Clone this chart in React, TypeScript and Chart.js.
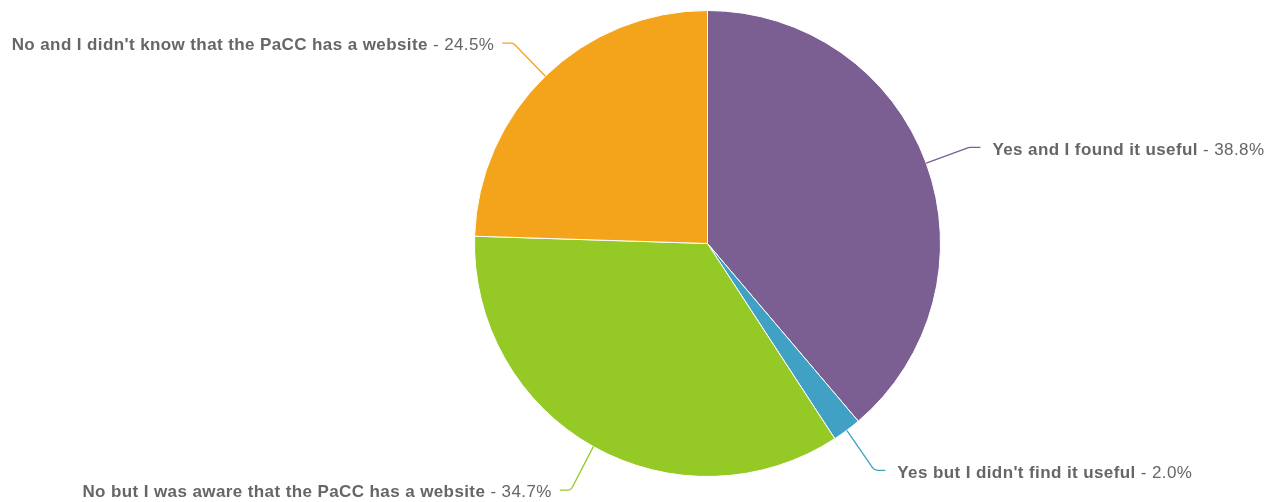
import React, { useEffect, useRef } from "react";
import { Chart, registerables } from "chart.js";

Chart.register(...registerables);

const categories = [
  "Yes and I found it useful",
  "Yes but I didn't find it useful",
  "No but I was aware that the PaCC has a website",
  "No and I didn't know that the PaCC has a website",
];
const values = [38.8, 2.0, 34.7, 24.5];
const colors = ["#7b5e92", "#41a1c4", "#95c926", "#f4a41a"];

const FONT_SIZE = 17;
const FONT_FAMILY = '"Liberation Sans", Arial, Helvetica, sans-serif';
const TEXT_COLOR = "#666666";

const labelPlugin = {
  id: "pieLabels",
  afterDatasetsDraw(chart: any) {
    const ctx = chart.ctx as CanvasRenderingContext2D;
    const meta = chart.getDatasetMeta(0);
    const data = chart.data.datasets[0].data as number[];
    const labels = chart.data.labels as string[];
    meta.data.forEach((arc: any, i: number) => {
      const { x, y, outerRadius, startAngle, endAngle } = arc.getProps(
        ["x", "y", "outerRadius", "startAngle", "endAngle"],
        true
      );
      const mid = (startAngle + endAngle) / 2;
      const cos = Math.cos(mid);
      const sin = Math.sin(mid);
      const sx = x + outerRadius * cos;
      const sy = y + outerRadius * sin;
      const lrx = outerRadius + 46;
      const lry = outerRadius + 46 + (sin > 0 ? 4 : 0);
      const right = cos >= 0;
      const ex = x + lrx * cos;
      const ey = y + lry * sin;
      const hx = ex + (right ? 11 : -11);
      ctx.save();
      ctx.strokeStyle = colors[i];
      ctx.lineWidth = 1.3;
      ctx.beginPath();
      ctx.moveTo(sx, sy);
      ctx.arcTo(ex, ey, hx, ey, 6);
      ctx.lineTo(hx, ey);
      ctx.stroke();

      const bold = labels[i];
      const rest = " - " + data[i].toFixed(1) + "%";
      ctx.fillStyle = TEXT_COLOR;
      ctx.textBaseline = "middle";
      (ctx as any).letterSpacing = "0.4px";
      ctx.font = `bold ${FONT_SIZE}px ${FONT_FAMILY}`;
      const wb = ctx.measureText(bold).width;
      ctx.font = `${FONT_SIZE}px ${FONT_FAMILY}`;
      const wr = ctx.measureText(rest).width;
      const tx = right ? hx + 12 : hx - 8 - wb - wr;
      ctx.textAlign = "left";
      ctx.font = `bold ${FONT_SIZE}px ${FONT_FAMILY}`;
      ctx.fillText(bold, tx, ey + 2.5);
      ctx.font = `${FONT_SIZE}px ${FONT_FAMILY}`;
      ctx.fillText(rest, tx + wb, ey + 2.5);
      ctx.restore();
    });
  },
};

export default function App() {
  const ref = useRef<HTMLCanvasElement | null>(null);
  useEffect(() => {
    if (!ref.current) return;
    const chart = new Chart(ref.current, {
      type: "pie",
      data: {
        labels: categories,
        datasets: [
          {
            data: values,
            backgroundColor: colors,
            borderColor: "#ffffff",
            borderWidth: 1,
          },
        ],
      },
      options: {
        responsive: false,
        animation: false,
        layout: { padding: { left: 474, right: 331, top: 10, bottom: 25 } },
        plugins: {
          legend: { display: false },
          tooltip: { enabled: false },
        },
      },
      plugins: [labelPlugin],
    });
    return () => chart.destroy();
  }, []);
  return (
    <div style={{ position: "fixed", left: 0, top: 0, width: 1272, height: 502, background: "#fff" }}>
      <canvas ref={ref} width={1272} height={502} />
    </div>
  );
}
